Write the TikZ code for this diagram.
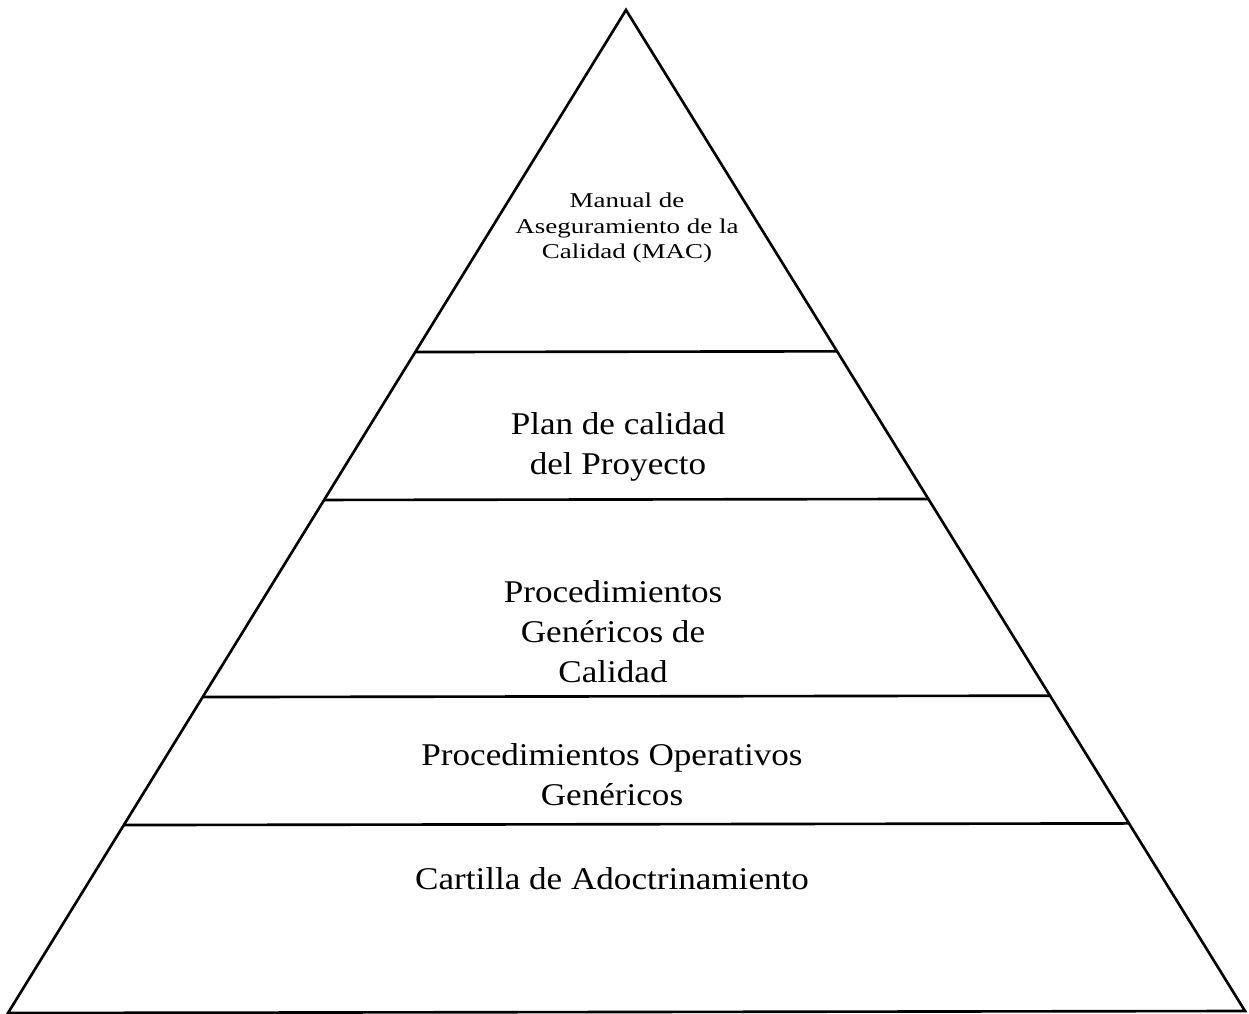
\documentclass[tikz,border=0pt]{standalone}
\usepackage{fontspec}
\setmainfont{Liberation Serif}
\newfontfamily\pyrfont[FakeStretch=1.11]{Liberation Serif}
\newfontfamily\macfont[FakeStretch=1.28]{Liberation Serif}
\usetikzlibrary{calc}

\begin{document}
\begin{tikzpicture}[
x=0.02cm,y=-0.02cm,
every node/.style={align=center,inner sep=0pt},
layer/.style={font=\pyrfont\fontsize{18}{22.8}\selectfont},
toplayer/.style={font=\macfont\fontsize{12}{14.7}\selectfont},
edge/.style={line width=1.5pt}]
\useasboundingbox (0,0) rectangle (1249,1014);
\coordinate (apex) at (626,10);
\coordinate (bl) at (8,1013);
\coordinate (br) at (1245,1011);
\draw[edge,line join=miter] (apex) -- (br) -- (bl) -- cycle;
\foreach \t in {0.341,0.4885,0.685,0.8126}
  \draw[edge] ($(apex)!\t!(bl)$) -- ($(apex)!\t!(br)$);
\node[toplayer] (mac) at (627,228) {Manual de\\Aseguramiento de la\\Calidad (MAC)};
\node[layer] (plan) at (618,447) {Plan de calidad\\del Proyecto};
\node[layer] (pgc) at (613,632) {Procedimientos\\Genéricos de\\Calidad};
\node[layer] (pog) at (612,775) {Procedimientos Operativos\\Genéricos};
\node[layer] (cartilla) at (612,879) {Cartilla de Adoctrinamiento};
\end{tikzpicture}
\end{document}
